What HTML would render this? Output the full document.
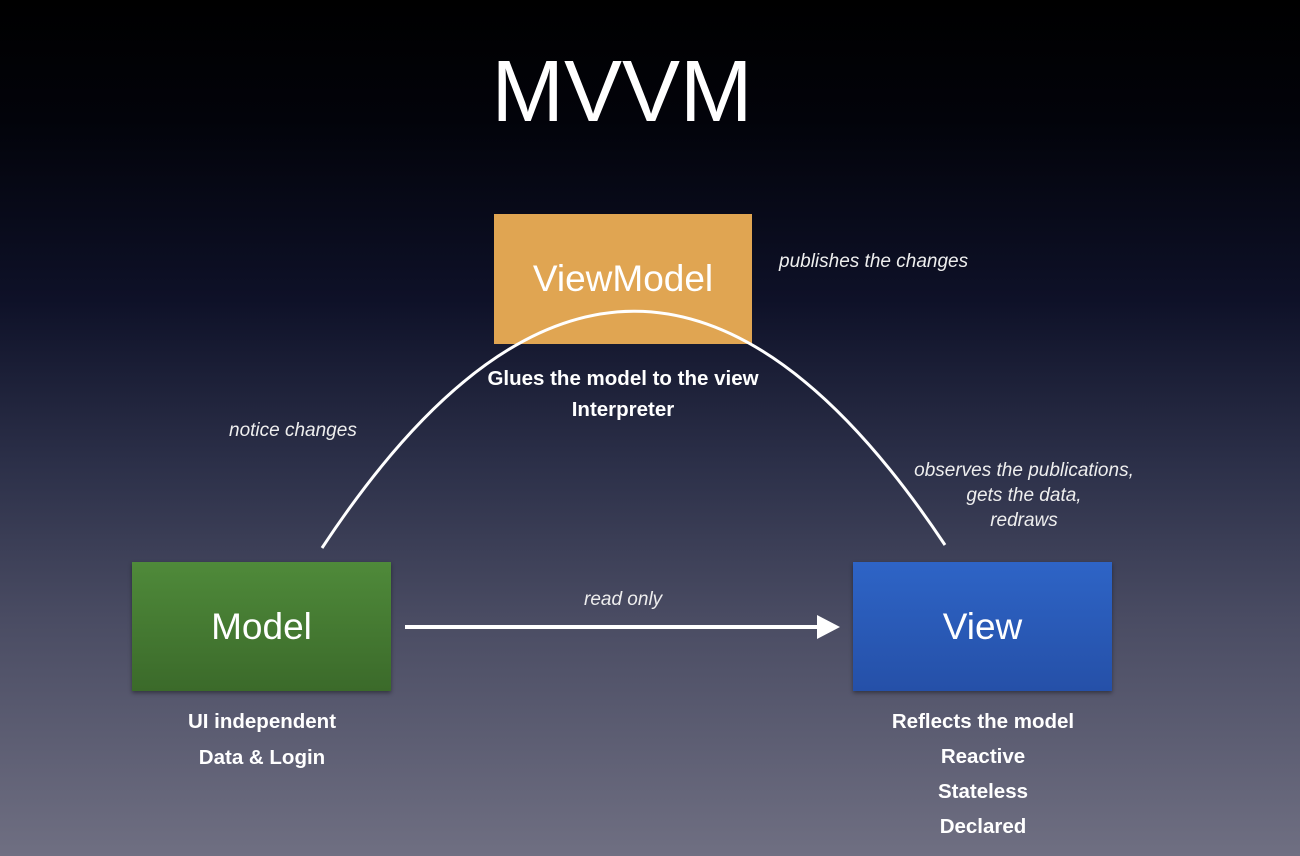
<!DOCTYPE html>
<html><head><meta charset="utf-8"><style>
html,body{margin:0;padding:0}
body{width:1300px;height:856px;overflow:hidden;position:relative;font-family:"Liberation Sans",sans-serif;
background:linear-gradient(180deg,#000 0px,#02030a 120px,#0e1128 300px,#2b2f48 460px,#4a4c63 620px,#6f6f82 856px);}
.t{position:absolute;color:#fff;white-space:nowrap}
.box{position:absolute;color:#fff;display:flex;align-items:center;justify-content:center;font-size:37px}
.i{font-style:italic;font-size:19px;color:#eee}
.b{font-weight:bold;font-size:20.5px;text-align:center}
</style></head><body>
<div class="t" style="left:0;width:1244px;text-align:center;top:42px;font-size:87px;">MVVM</div>
<div class="box" style="left:494px;top:214px;width:258px;height:130px;background:#e0a552;">ViewModel</div>
<div class="box" style="left:132px;top:562px;width:259px;height:129px;background:linear-gradient(#4f8a3a,#3b6a2a);box-shadow:0 2px 4px rgba(0,0,0,.4)">Model</div>
<div class="box" style="left:853px;top:562px;width:259px;height:129px;background:linear-gradient(#2e64c6,#2550a8);box-shadow:0 2px 4px rgba(0,0,0,.4)">View</div>
<svg style="position:absolute;left:0;top:0" width="1300" height="856">
<path d="M322 548 Q633 76 945 545" fill="none" stroke="#fff" stroke-width="3"/>
<line x1="405" y1="627" x2="820" y2="627" stroke="#fff" stroke-width="4"/>
<polygon points="840,627 817,615 817,639" fill="#fff"/>
</svg>
<div class="t i" style="left:779px;top:251px">publishes the changes</div>
<div class="t i" style="left:229px;top:420px">notice changes</div>
<div class="t i" style="left:584px;top:589px">read only</div>
<div class="t i" style="left:894px;top:458px;width:260px;text-align:center;line-height:25px">observes the publications,<br>gets the data,<br>redraws</div>
<div class="t b" style="left:473px;width:300px;top:363px;line-height:31px">Glues the model to the view<br>Interpreter</div>
<div class="t b" style="left:112px;width:300px;top:704px;line-height:36px">UI independent<br>Data &amp; Login</div>
<div class="t b" style="left:833px;width:300px;top:704px;line-height:35px">Reflects the model<br>Reactive<br>Stateless<br>Declared</div>
</body></html>
